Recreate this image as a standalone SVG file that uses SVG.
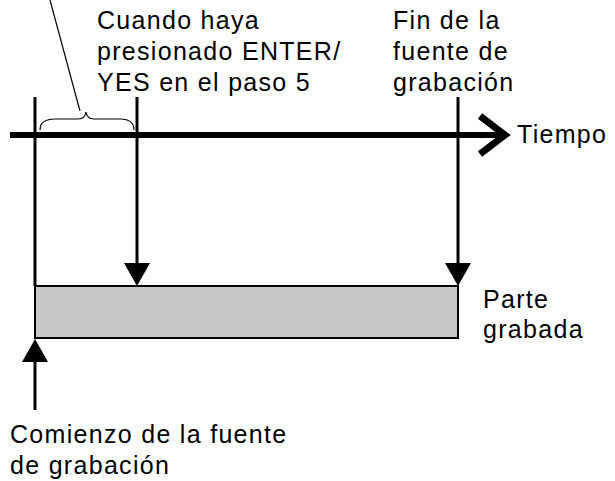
<svg xmlns="http://www.w3.org/2000/svg" width="615" height="481" viewBox="0 0 615 481">
<style>
text{font-family:"Liberation Sans",Arial,sans-serif;font-size:25px;letter-spacing:1.3px;fill:#000}
.l{stroke:#000;stroke-width:3;fill:none}
</style>
<rect width="615" height="481" fill="#fff"/>
<g id="bar"><rect x="35" y="286" width="423" height="52" fill="#c8c8c8" stroke="#000" stroke-width="2"/></g>
<g id="connectors">
<line x1="10" y1="135" x2="505" y2="135" stroke="#000" stroke-width="6"/>
<polyline points="480,116 505,135 480,154" fill="none" stroke="#000" stroke-width="7"/>
<line class="l" x1="35" y1="97" x2="35" y2="286"/>
<line class="l" x1="137" y1="97" x2="137" y2="265"/>
<polygon points="124,263 150,263 137,286"/>
<line class="l" x1="458" y1="97" x2="458" y2="265"/>
<polygon points="445,263 471,263 458,286"/>
<line class="l" x1="35" y1="410" x2="35" y2="360"/>
<polygon points="22,362 48,362 35,339"/>
<path d="M40,130 Q40,119 55,119 L78,119 Q85,119 86,112 Q87,119 94,119 L120,119 Q134,119 134,130" stroke="#000" stroke-width="1.2" fill="none"/>
<line x1="50" y1="0" x2="80" y2="111" stroke="#000" stroke-width="1.2"/>
</g>
<g id="labels">
<text x="97" y="29">Cuando haya</text>
<text x="97" y="60">presionado ENTER/</text>
<text x="97" y="91">YES en el paso 5</text>
<text x="393" y="29">Fin de la</text>
<text x="393" y="60">fuente de</text>
<text x="393" y="91">grabación</text>
<text x="517" y="143">Tiempo</text>
<text x="483" y="308">Parte</text>
<text x="483" y="338">grabada</text>
<text x="10" y="443">Comienzo de la fuente</text>
<text x="10" y="474">de grabación</text>
</g>
</svg>
